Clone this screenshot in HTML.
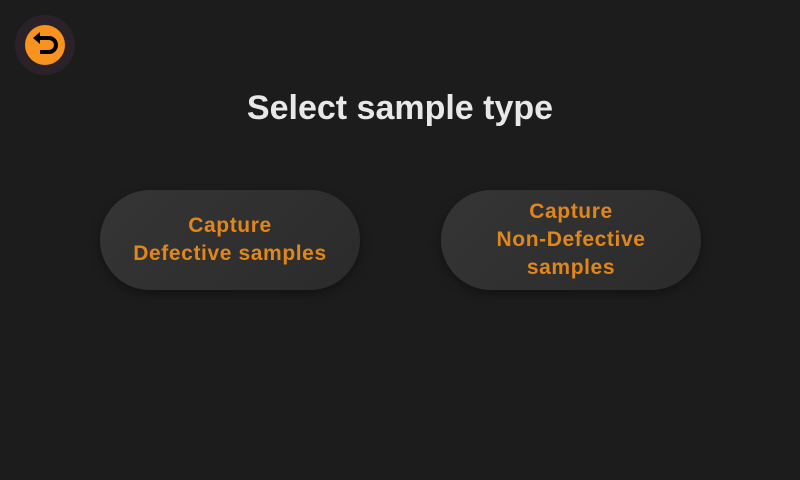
<!DOCTYPE html>
<html><head><style>
body{margin:0;width:800px;height:480px;background:#1c1c1c;font-family:"Liberation Sans",sans-serif;position:relative;overflow:hidden}
.back{position:absolute;left:15px;top:15px;width:60px;height:60px;border-radius:50%;background:radial-gradient(circle,#2e1f28 0%,#2a2228 70%,#282828 100%)}
.back .in{position:absolute;left:10px;top:10px;width:40px;height:40px;border-radius:50%;background:#f7931e}
h1{position:absolute;top:88px;left:0;width:800px;margin:0;text-align:center;color:#e8e8e8;font-size:34px;font-weight:bold;line-height:40px}
.btn{position:absolute;top:190px;width:260px;height:100px;border-radius:50px;background:linear-gradient(135deg,#353535,#2b2b2b);box-shadow:0 4px 10px rgba(0,0,0,.35);display:flex;align-items:center;justify-content:center;text-align:center;color:#e0861a;font-weight:bold;font-size:21px;letter-spacing:0.6px;line-height:28px}
</style></head><body>
<div class="back"><div class="in">
<svg width="40" height="40" viewBox="0 0 40 40"><path d="M14 13 H24 A7 7 0 0 1 24 27 H15" fill="none" stroke="#000" stroke-width="4"/><path d="M8 13 L15 7 L15 19 Z" fill="#000"/></svg></div></div>
<h1>Select sample type</h1>
<div class="btn" style="left:100px">Capture<br>Defective samples</div>
<div class="btn" style="left:441px">Capture<br>Non-Defective<br>samples</div>
</body></html>
